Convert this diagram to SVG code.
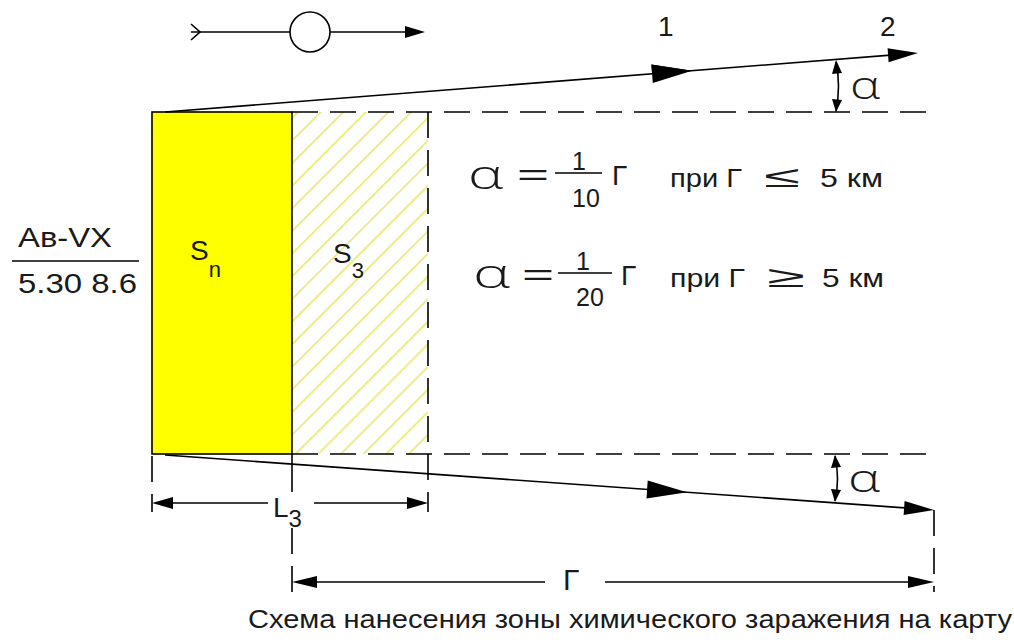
<svg xmlns="http://www.w3.org/2000/svg" width="1014" height="643" viewBox="0 0 1014 643">
<style>
text{font-family:"Liberation Sans",Arial,sans-serif;fill:#1a1a1a}
.al{font-family:"Open Sans","DejaVu Sans",sans-serif;font-weight:300}
.ln{stroke:#000;stroke-width:1.6;fill:none}
.ds{stroke:#000;stroke-width:1.6;fill:none;stroke-dasharray:26 12}
.ah{fill:#000;stroke:none}
</style>
<defs>
<pattern id="hatch" width="16" height="16" patternUnits="userSpaceOnUse" patternTransform="rotate(45)">
<line x1="2" y1="0" x2="2" y2="16" stroke="#ecec88" stroke-width="2"/>
</pattern>
</defs>
<rect width="1014" height="643" fill="#fff"/>

<g id="legend">
<polyline class="ln" points="191,24 200,32 191,40"/>
<line class="ln" x1="191" y1="32" x2="290" y2="32"/>
<circle class="ln" cx="310" cy="32" r="20"/>
<line class="ln" x1="330" y1="32" x2="410" y2="32"/>
<polygon class="ah" points="425,32 405,26 405,38"/>
</g>

<g id="zone-s3">
<rect x="292" y="112" width="136" height="342" fill="url(#hatch)"/>
<text x="333" y="263" font-size="28">S<tspan dy="15" font-size="22">3</tspan></text>
</g>

<g id="zone-sn">
<rect x="152" y="112" width="140" height="342" fill="#ffff00" stroke="#000" stroke-width="1.6"/>
<text x="190" y="260" font-size="28">S<tspan dy="17" font-size="22">n</tspan></text>
</g>

<g id="label-avx">
<text x="18" y="247" font-size="28" textLength="94" lengthAdjust="spacingAndGlyphs">Ав-VX</text>
<line class="ln" x1="12" y1="261" x2="139" y2="261"/>
<text x="18" y="293" font-size="28" textLength="119" lengthAdjust="spacingAndGlyphs">5.30 8.6</text>
</g>

<g id="connectors">
<line class="ln" x1="165" y1="112" x2="900" y2="54.4"/>
<polygon class="ah" points="692,70.7 652.1,74.1 651.4,64.4"/>
<polygon class="ah" points="652.8,83.0 692,70.7 651.4,64.4"/>
<polygon class="ah" points="918,53 888.6,62.3 887.6,48.3"/>
<line class="ln" x1="165" y1="455" x2="915" y2="508.6"/>
<polygon class="ah" points="687,492.3 646.5,498.5 647.7,480.5"/>
<polygon class="ah" points="934,510 903.6,514.9 904.6,500.9"/>
<line class="ds" x1="292" y1="112" x2="932" y2="112"/>
<line class="ds" x1="292" y1="454" x2="934" y2="454"/>
<line class="ds" x1="428" y1="112" x2="428" y2="512"/>
<line class="ds" x1="152" y1="456" x2="152" y2="512" stroke-dasharray="16 10"/>
<line class="ln" x1="292" y1="454" x2="292" y2="492"/>
<line class="ds" x1="292" y1="528" x2="292" y2="592" stroke-dasharray="16 10"/>
<line class="ds" x1="934" y1="510" x2="934" y2="592" stroke-dasharray="20 10"/>
<line class="ln" x1="160" y1="503" x2="268" y2="503"/>
<line class="ln" x1="314" y1="503" x2="420" y2="503"/>
<polygon class="ah" points="152,503 173,497 173,509"/>
<polygon class="ah" points="428,503 407,497 407,509"/>
<line class="ln" x1="300" y1="582" x2="545" y2="582"/>
<line class="ln" x1="605" y1="582" x2="926" y2="582"/>
<polygon class="ah" points="292,582 317,576 317,588"/>
<polygon class="ah" points="934,582 908,576 908,588"/>
<path class="ln" d="M836,62 Q841,86 836,111"/>
<polygon class="ah" points="836,60 832,74 842,73"/>
<polygon class="ah" points="836,112 832,99 842,100"/>
<path class="ln" d="M835,456 Q840,479 835,501"/>
<polygon class="ah" points="835,455 831,468 841,467"/>
<polygon class="ah" points="835,502 831,489 841,490"/>
</g>

<g id="labels">
<text x="658" y="36" font-size="28">1</text>
<text x="880" y="36" font-size="28">2</text>
<text class="al" x="850" y="99" font-size="38" textLength="30" lengthAdjust="spacingAndGlyphs">α</text>
<text class="al" x="848" y="492" font-size="38" textLength="32" lengthAdjust="spacingAndGlyphs">α</text>
<text x="273" y="517" font-size="28">L<tspan dy="10" font-size="24">3</tspan></text>
<text x="563" y="590" font-size="30">Г</text>
</g>

<g id="formula-1">
<text class="al" x="468" y="189" font-size="41" textLength="35" lengthAdjust="spacingAndGlyphs">α</text>
<text x="517" y="185" font-size="30" textLength="32" lengthAdjust="spacingAndGlyphs">=</text>
<text x="579" y="170" font-size="25" text-anchor="middle">1</text>
<line class="ln" x1="555" y1="173" x2="602" y2="173"/>
<text x="586" y="207" font-size="25" text-anchor="middle">10</text>
<text x="612" y="185" font-size="28">Г</text>
<text x="670" y="187" font-size="25" textLength="72" lengthAdjust="spacingAndGlyphs">при Г</text>
<text x="764" y="187" font-size="30" textLength="36" lengthAdjust="spacingAndGlyphs">≤</text>
<text x="820" y="187" font-size="25" textLength="63" lengthAdjust="spacingAndGlyphs">5 км</text>
</g>

<g id="formula-2">
<text class="al" x="473" y="288" font-size="41" textLength="37" lengthAdjust="spacingAndGlyphs">α</text>
<text x="522" y="285" font-size="30" textLength="32" lengthAdjust="spacingAndGlyphs">=</text>
<text x="583" y="270" font-size="25" text-anchor="middle">1</text>
<line class="ln" x1="558" y1="273" x2="612" y2="273"/>
<text x="590" y="306" font-size="25" text-anchor="middle">20</text>
<text x="621" y="285" font-size="28">Г</text>
<text x="670" y="287" font-size="25" textLength="75" lengthAdjust="spacingAndGlyphs">при Г</text>
<text x="767" y="287" font-size="30" textLength="38" lengthAdjust="spacingAndGlyphs">≥</text>
<text x="822" y="287" font-size="25" textLength="62" lengthAdjust="spacingAndGlyphs">5 км</text>
</g>

<g id="caption">
<text x="248" y="628" font-size="26" textLength="764" lengthAdjust="spacingAndGlyphs">Схема нанесения зоны химического заражения на карту</text>
</g>
</svg>
